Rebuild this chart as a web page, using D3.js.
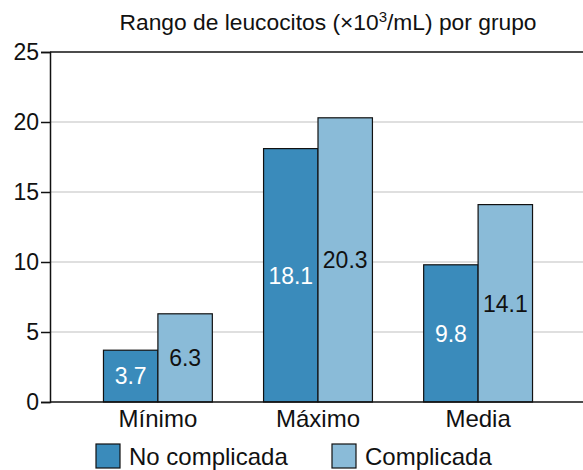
<!DOCTYPE html>
<html>
<head>
<meta charset="utf-8">
<script src="https://cdn.jsdelivr.net/npm/d3@7"></script>
<style>
  body { margin: 0; background: #fff; }
  text { font-family: Arial, "Liberation Sans", sans-serif; fill: #111; }
</style>
</head>
<body>
<div id="chart"></div>
<script>
// data
var categories = ["Mínimo", "Máximo", "Media"]
var seriesNames = ["No complicada", "Complicada"]
var noComplicada = [3.7, 18.1, 9.8]
var complicada = [6.3, 20.3, 14.1]
var yTicks = [0, 5, 10, 15, 20, 25]

var colors = ["#3a8bbb", "#8abbd8"]
var labelColors = ["#fff", "#111"]

const width = 583, height = 470
const svg = d3.select("#chart").append("svg")
    .attr("width", width)
    .attr("height", height)

const x = d3.scaleBand()
    .domain(categories)
    .range([50, 586])
    .paddingInner(0.32)
    .paddingOuter(0.334)

const xSub = d3.scaleBand()
    .domain(seriesNames)
    .range([0, x.bandwidth()])

const y = d3.scaleLinear()
    .domain([0, 25])
    .range([402, 52])

// gridlines
svg.append("g")
    .selectAll("line")
    .data(yTicks.filter(d => d > 0 && d < 25))
    .join("line")
    .attr("x1", 50).attr("x2", width)
    .attr("y1", d => y(d)).attr("y2", d => y(d))
    .attr("stroke", "#d4d4d4")
    .attr("stroke-width", 1.5)

// top border
svg.append("line")
    .attr("x1", 50).attr("x2", width)
    .attr("y1", y(25)).attr("y2", y(25))
    .attr("stroke", "#111").attr("stroke-width", 1.5)

// y axis
const yAxis = svg.append("g")
    .attr("transform", "translate(50,0)")
    .call(d3.axisLeft(y).tickValues(yTicks).tickSize(9).tickPadding(2))
yAxis.select(".domain").attr("stroke", "#111").attr("stroke-width", 1.5)
yAxis.selectAll(".tick line").attr("stroke", "#111").attr("stroke-width", 1.5)
yAxis.selectAll(".tick text")
    .style("font-family", "Arial, 'Liberation Sans', sans-serif")
    .style("font-size", "23px").attr("fill", "#111")

// bars
var rows = categories.map((c, i) => ({ cat: c, vals: [noComplicada[i], complicada[i]] }))
const groups = svg.append("g")
    .selectAll("g")
    .data(rows)
    .join("g")
    .attr("transform", d => `translate(${x(d.cat)},0)`)

groups.selectAll("rect")
    .data(d => d.vals.map((v, j) => ({ v: v, j: j })))
    .join("rect")
    .attr("x", d => xSub(seriesNames[d.j]))
    .attr("y", d => y(d.v))
    .attr("width", xSub.bandwidth())
    .attr("height", d => y(0) - y(d.v))
    .attr("fill", d => colors[d.j])
    .attr("stroke", "#111")
    .attr("stroke-width", 1.2)

groups.selectAll("text")
    .data(d => d.vals.map((v, j) => ({ v: v, j: j })))
    .join("text")
    .attr("x", d => xSub(seriesNames[d.j]) + xSub.bandwidth() / 2)
    .attr("y", d => (y(d.v) + y(0)) / 2)
    .attr("dy", "0.36em")
    .attr("text-anchor", "middle")
    .style("font-size", "23px")
    .style("fill", d => labelColors[d.j])
    .text(d => d.v.toFixed(1))

// x axis baseline + labels
svg.append("line")
    .attr("x1", 50).attr("x2", width)
    .attr("y1", y(0)).attr("y2", y(0))
    .attr("stroke", "#111").attr("stroke-width", 1.5)

svg.append("g")
    .selectAll("text")
    .data(categories)
    .join("text")
    .attr("x", d => x(d) + x.bandwidth() / 2)
    .attr("y", 427)
    .attr("text-anchor", "middle")
    .style("font-size", "24px")
    .text(d => d)

// title
const title = svg.append("text")
    .attr("x", 328)
    .attr("y", 30)
    .attr("text-anchor", "middle")
    .style("font-size", "22.8px")
title.append("tspan").text("Rango de leucocitos (×10")
title.append("tspan").attr("dy", -8).style("font-size", "15px").text("3")
title.append("tspan").attr("dy", 8).text("/mL) por grupo")

// legend
var legendX = [96, 332]
const legend = svg.append("g")
    .selectAll("g")
    .data(seriesNames)
    .join("g")
    .attr("transform", (d, i) => `translate(${legendX[i]},444)`)
legend.append("rect")
    .attr("width", 24).attr("height", 24)
    .attr("fill", (d, i) => colors[i])
    .attr("stroke", "#111").attr("stroke-width", 1.2)
legend.append("text")
    .attr("x", 33).attr("y", 21)
    .style("font-size", "24px")
    .text(d => d)
</script>
</body>
</html>
